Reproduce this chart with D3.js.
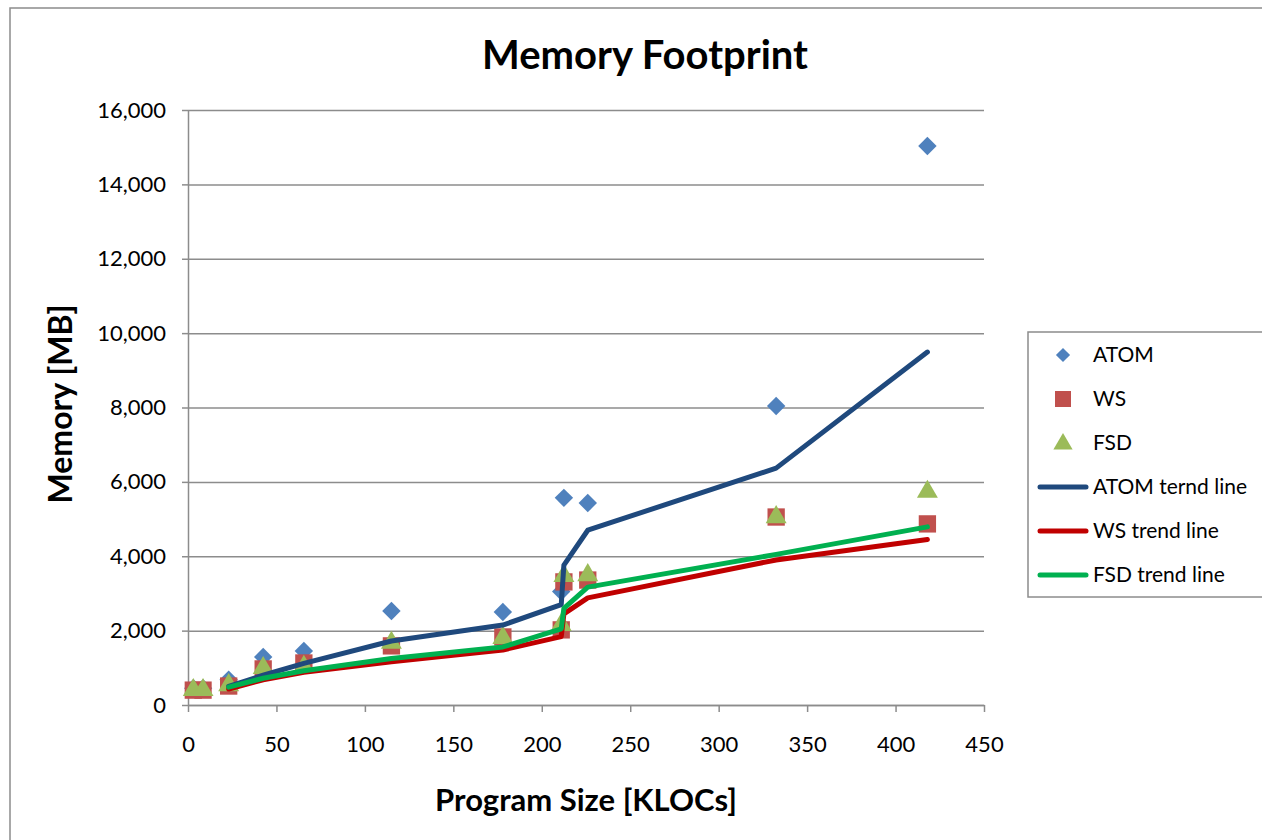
<!DOCTYPE html>
<html>
<head>
<meta charset="utf-8">
<script src="https://cdn.jsdelivr.net/npm/d3@7"></script>
<style>
  body { margin: 0; background: #fff; }
  text { font-family: Lato, "Open Sans", sans-serif; fill: #000; }
</style>
</head>
<body>
<div id="chart"></div>
<script>
const width = 1262;
const height = 840;

// program size in KLOCs for each benchmark
const kloc = [3, 8.5, 23, 42.5, 65.5, 115, 178, 211, 212.5, 226, 332.5, 418];
const atom = [450, 450, 680, 1290, 1450, 2530, 2500, 3050, 5570, 5430, 8040, 15030];
const ws   = [400, 400, 510, 970, 1130, 1590, 1830, 2020, 3310, 3360, 5055, 4870];
const fsd  = [430, 430, 560, 1020, 1050, 1700, 1830, 2180, 3500, 3520, 5080, 5760];

// trend lines start at the third program
const trendKloc  = [23, 42.5, 65.5, 115, 178, 211, 212.5, 226, 332.5, 418];
const atomTrend  = [500, 800, 1120, 1720, 2150, 2700, 3760, 4700, 6370, 9490];
const wsTrend    = [430, 680, 880, 1160, 1480, 1840, 2450, 2880, 3900, 4450];
const fsdTrend   = [480, 720, 920, 1250, 1560, 2050, 2600, 3170, 4050, 4790];

const xTicks = [0, 50, 100, 150, 200, 250, 300, 350, 400, 450];
const yTicks = [0, 2000, 4000, 6000, 8000, 10000, 12000, 14000, 16000];

const svg = d3.select("#chart")
    .append("svg")
    .attr("width", width)
    .attr("height", height);

// outer chart frame
svg.append("rect")
    .attr("x", 10).attr("y", 8)
    .attr("width", width + 10).attr("height", height + 10)
    .attr("fill", "none")
    .attr("stroke", "#8c8c8c")
    .attr("stroke-width", 1.5);

const xScale = d3.scaleLinear().domain([0, 450]).range([188, 984]);
const yScale = d3.scaleLinear().domain([0, 16000]).range([705, 110]);

// horizontal gridlines
svg.append("g")
    .attr("transform", "translate(188,0)")
    .call(d3.axisLeft(yScale).tickValues(yTicks).tickSize(-(984 - 188)).tickFormat(""))
    .call(g => g.select(".domain").remove())
    .selectAll("line")
    .attr("stroke", "#8c8c8c")
    .attr("stroke-width", 1.5);

// Y axis
const yAxis = svg.append("g")
    .attr("transform", "translate(188,0)")
    .call(d3.axisLeft(yScale).tickValues(yTicks).tickSize(6).tickSizeOuter(0)
        .tickPadding(16).tickFormat(d3.format(",")));
yAxis.selectAll("line, path").attr("stroke", "#8c8c8c").attr("stroke-width", 1.5);
yAxis.selectAll("text").style("font-size", "22px").attr("font-family", "Lato, sans-serif");

// X axis
const xAxis = svg.append("g")
    .attr("transform", "translate(0,705)")
    .call(d3.axisBottom(xScale).tickValues(xTicks).tickSize(7).tickSizeOuter(0).tickPadding(24));
xAxis.selectAll("line, path").attr("stroke", "#8c8c8c").attr("stroke-width", 1.5);
xAxis.selectAll("text").style("font-size", "22px").attr("font-family", "Lato, sans-serif");

// Title and axis labels
svg.append("text")
    .attr("x", 645).attr("y", 69)
    .attr("text-anchor", "middle")
    .style("font-size", "40px").style("font-weight", "bold")
    .text("Memory Footprint");

svg.append("text")
    .attr("x", 586).attr("y", 811)
    .attr("text-anchor", "middle")
    .style("font-size", "31px").style("font-weight", "bold")
    .text("Program Size [KLOCs]");

svg.append("text")
    .attr("transform", "translate(72,404) rotate(-90)")
    .attr("text-anchor", "middle")
    .style("font-size", "32px").style("font-weight", "bold")
    .text("Memory [MB]");

// scatter markers
const diamond = d3.symbol().type(d3.symbolSquare).size(170);
const square = d3.symbol().type(d3.symbolSquare).size(300);
const triangle = d3.symbol().type(d3.symbolTriangle).size(190);

svg.append("g").selectAll("path")
    .data(kloc.map((k, i) => [k, atom[i]]))
    .enter().append("path")
    .attr("d", diamond)
    .attr("transform", d => `translate(${xScale(d[0])},${yScale(d[1])}) rotate(45)`)
    .attr("fill", "#4f81bd");

svg.append("g").selectAll("path")
    .data(kloc.map((k, i) => [k, ws[i]]))
    .enter().append("path")
    .attr("d", square)
    .attr("transform", d => `translate(${xScale(d[0])},${yScale(d[1])})`)
    .attr("fill", "#c0504d");

svg.append("g").selectAll("path")
    .data(kloc.map((k, i) => [k, fsd[i]]))
    .enter().append("path")
    .attr("d", triangle)
    .attr("transform", d => `translate(${xScale(d[0])},${yScale(d[1]) + 1})`)
    .attr("fill", "#9bbb59");

// trend lines
const line = d3.line().x(d => xScale(d[0])).y(d => yScale(d[1]));
const trends = [
    { vals: atomTrend, color: "#1f497d" },
    { vals: wsTrend, color: "#c00000" },
    { vals: fsdTrend, color: "#00b050" }
];
trends.forEach(t => {
    svg.append("path")
        .datum(trendKloc.map((k, i) => [k, t.vals[i]]))
        .attr("d", line)
        .attr("fill", "none")
        .attr("stroke", t.color)
        .attr("stroke-width", 5)
        .attr("stroke-linecap", "round")
        .attr("stroke-linejoin", "round");
});

// legend
svg.append("rect")
    .attr("x", 1028).attr("y", 332)
    .attr("width", 250).attr("height", 265)
    .attr("fill", "#fff")
    .attr("stroke", "#8c8c8c")
    .attr("stroke-width", 1.5);

const legendItems = [
    { label: "ATOM", kind: "diamond", color: "#4f81bd" },
    { label: "WS", kind: "square", color: "#c0504d" },
    { label: "FSD", kind: "triangle", color: "#9bbb59" },
    { label: "ATOM ternd line", kind: "line", color: "#1f497d" },
    { label: "WS trend line", kind: "line", color: "#c00000" },
    { label: "FSD trend line", kind: "line", color: "#00b050" }
];

const legend = svg.selectAll(".legend")
    .data(legendItems)
    .enter().append("g")
    .attr("class", "legend")
    .attr("transform", (d, i) => `translate(0, ${355 + i * 44})`);

legend.each(function(d) {
    const g = d3.select(this);
    if (d.kind === "line") {
        g.append("line")
            .attr("x1", 1040).attr("x2", 1086)
            .attr("y1", 0).attr("y2", 0)
            .attr("stroke", d.color)
            .attr("stroke-width", 5)
            .attr("stroke-linecap", "round");
    } else if (d.kind === "diamond") {
        g.append("path").attr("d", d3.symbol().type(d3.symbolSquare).size(100))
            .attr("transform", "translate(1063,0) rotate(45)").attr("fill", d.color);
    } else if (d.kind === "square") {
        g.append("path").attr("d", d3.symbol().type(d3.symbolSquare).size(256))
            .attr("transform", "translate(1063,0)").attr("fill", d.color);
    } else {
        g.append("path").attr("d", d3.symbol().type(d3.symbolTriangle).size(160))
            .attr("transform", "translate(1063,1)").attr("fill", d.color);
    }
    g.append("text")
        .attr("x", 1093)
        .attr("y", 0)
        .attr("dy", "0.35em")
        .style("font-size", "21px")
        .text(d.label);
});
</script>
</body>
</html>
